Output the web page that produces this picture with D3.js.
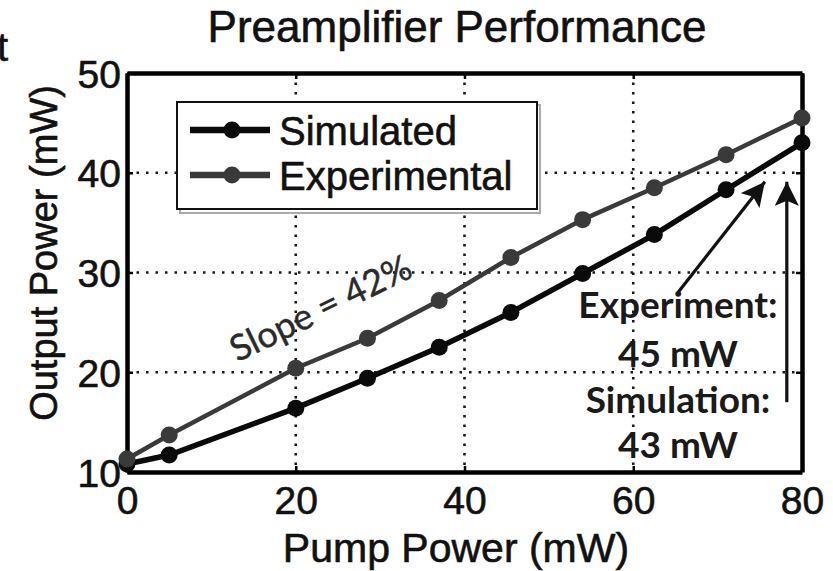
<!DOCTYPE html>
<html><head><meta charset="utf-8">
<script src="https://cdn.jsdelivr.net/npm/d3@7"></script>
<style>
html,body{margin:0;padding:0;background:#fff;}
svg{display:block;}
</style></head>
<body>
<svg id="chart" width="833" height="571"></svg>
<script>
// ---- data ----
const pumpPower = [0, 5, 20, 28.5, 37, 45.5, 54, 62.5, 71, 80];
const simulated = [10.8, 11.7, 16.4, 19.4, 22.5, 26.0, 29.9, 33.8, 38.3, 43.0];
const experimental = [11.3, 13.7, 20.4, 23.4, 27.2, 31.5, 35.3, 38.5, 41.8, 45.5];
const xTicks = [0, 20, 40, 60, 80];
const yTicks = [10, 20, 30, 40, 50];
const gridX = [20, 40, 60];
const gridY = [20, 30, 40];
const seriesNames = ["Simulated", "Experimental"];
const titleText = "Preamplifier Performance";
const xLabel = "Pump Power (mW)";
const yLabel = "Output Power (mW)";
const slopeText = "Slope = 42%";
const noteLines = ["Experiment:", "45 mW", "Simulation:", "43 mW"];

// ---- layout ----
const svg = d3.select("#chart");
const x = d3.scaleLinear().domain([0, 80]).range([127, 802]);
const y = d3.scaleLinear().domain([10, 50]).range([472, 73]);
const FONT = "'Liberation Sans', Arial, sans-serif";
const NOTEFONT = "Lato, 'Open Sans', sans-serif";

svg.append("rect").attr("width", 833).attr("height", 571).attr("fill", "#fff");

// cropped letter from neighbouring figure
svg.append("text").attr("x", 8).attr("y", 61).attr("text-anchor", "end")
  .attr("font-family", FONT).attr("font-size", 40).attr("fill", "#111")
  .attr("stroke", "#111").attr("stroke-width", 0.6).text("t");

// grid
const grid = svg.append("g").attr("stroke", "#1a1a1a").attr("stroke-width", 2.6)
  .attr("stroke-dasharray", "2.5,7");
grid.selectAll("line.gx").data(gridX).enter().append("line")
  .attr("x1", d => x(d)).attr("x2", d => x(d)).attr("y1", y(50)).attr("y2", y(10));
grid.selectAll("line.gy").data(gridY).enter().append("line")
  .attr("y1", d => y(d)).attr("y2", d => y(d)).attr("x1", x(0)).attr("x2", x(80));

// axes with inward ticks
const axB = svg.append("g").attr("transform", `translate(0,${y(10)})`)
  .call(d3.axisBottom(x).tickValues(xTicks).tickSizeInner(-6).tickSizeOuter(0).tickPadding(14));
const axL = svg.append("g").attr("transform", `translate(${x(0)},0)`)
  .call(d3.axisLeft(y).tickValues(yTicks).tickSizeInner(-6).tickSizeOuter(0).tickPadding(6));
const axT = svg.append("g").attr("transform", `translate(0,${y(50)})`)
  .call(d3.axisTop(x).tickValues(xTicks).tickSizeInner(-6).tickSizeOuter(0).tickFormat(""));
const axR = svg.append("g").attr("transform", `translate(${x(80)},0)`)
  .call(d3.axisRight(y).tickValues(yTicks).tickSizeInner(-6).tickSizeOuter(0).tickFormat(""));
[axB, axL, axT, axR].forEach(a => {
  a.select(".domain").attr("stroke", "#000").attr("stroke-width", 4.5);
  a.selectAll(".tick line").attr("stroke", "#000").attr("stroke-width", 2.5);
  a.selectAll(".tick text").attr("font-family", FONT).attr("font-size", 39).attr("fill", "#111")
    .attr("stroke", "#111").attr("stroke-width", 0.6);
});
axB.selectAll(".tick text").attr("dy", "0.71em");
axL.selectAll(".tick text").attr("dy", "0.36em");

// series
const colors = { Simulated: "#0a0a0a", Experimental: "#3a3a3a" };
const widths = { Simulated: 5.5, Experimental: 4.5 };
const seriesData = [
  { name: seriesNames[0], values: simulated },
  { name: seriesNames[1], values: experimental }
];
const line = d3.line().x(d => x(d[0])).y(d => y(d[1]));
seriesData.forEach(s => {
  const pts = pumpPower.map((p, i) => [p, s.values[i]]);
  svg.append("path").datum(pts).attr("d", line).attr("fill", "none")
    .attr("stroke", colors[s.name]).attr("stroke-width", widths[s.name]);
  svg.append("g").selectAll("circle").data(pts).enter().append("circle")
    .attr("cx", d => x(d[0])).attr("cy", d => y(d[1])).attr("r", 8.5)
    .attr("fill", colors[s.name]);
});

// legend
const lg = svg.append("g");
lg.append("rect").attr("x", 180).attr("y", 105).attr("width", 360).attr("height", 108)
  .attr("fill", "none").attr("stroke", "#aaa").attr("stroke-width", 2);
lg.append("rect").attr("x", 177).attr("y", 102).attr("width", 360).attr("height", 107)
  .attr("fill", "#fff").attr("stroke", "#111").attr("stroke-width", 2);
seriesData.forEach((s, i) => {
  const ly = 130 + i * 45;
  lg.append("line").attr("x1", 190).attr("x2", 270).attr("y1", ly).attr("y2", ly)
    .attr("stroke", colors[s.name]).attr("stroke-width", 6.5);
  lg.append("circle").attr("cx", 232).attr("cy", ly).attr("r", 8.5).attr("fill", colors[s.name]);
  lg.append("text").attr("x", 279).attr("y", ly + 15).attr("font-family", FONT)
    .attr("font-size", 40).attr("fill", "#111").attr("stroke", "#111").attr("stroke-width", 0.6)
    .text(s.name);
});

// title & axis labels
svg.append("text").attr("x", 457).attr("y", 42).attr("text-anchor", "middle")
  .attr("font-family", FONT).attr("font-size", 44).attr("fill", "#111")
  .attr("stroke", "#111").attr("stroke-width", 0.6).text(titleText);
svg.append("text").attr("x", 456).attr("y", 562).attr("text-anchor", "middle")
  .attr("font-family", FONT).attr("font-size", 41).attr("fill", "#111")
  .attr("stroke", "#111").attr("stroke-width", 0.6).text(xLabel);
svg.append("text").attr("transform", "translate(57,253) rotate(-90)").attr("text-anchor", "middle")
  .attr("font-family", FONT).attr("font-size", 38).attr("fill", "#111")
  .attr("stroke", "#111").attr("stroke-width", 0.6).text(yLabel);

// slope annotation
svg.append("text")
  .attr("transform", `translate(${x(23.6)},${y(25.3)}) rotate(-26)`)
  .attr("text-anchor", "middle").attr("font-family", NOTEFONT).attr("font-size", 36)
  .attr("fill", "#2a2a2a").attr("stroke", "#2a2a2a").attr("stroke-width", 0.4).text(slopeText);

// arrows
const defs = svg.append("defs");
defs.append("marker").attr("id", "ah").attr("markerUnits", "userSpaceOnUse")
  .attr("markerWidth", 28).attr("markerHeight", 24).attr("refX", 24).attr("refY", 12)
  .attr("orient", "auto")
  .append("path").attr("d", "M0,0 L24,12 L0,24 L5,12 Z").attr("fill", "#111");
svg.append("line").attr("x1", x(65.3)).attr("y1", y(28.0)).attr("x2", x(75.6)).attr("y2", y(39.1))
  .attr("stroke", "#111").attr("stroke-width", 3.2).attr("marker-end", "url(#ah)");
svg.append("line").attr("x1", x(78.2)).attr("y1", y(17.0)).attr("x2", x(78.2)).attr("y2", y(39.1))
  .attr("stroke", "#111").attr("stroke-width", 3.2).attr("marker-end", "url(#ah)");

// notes
const noteY = [25.4, 20.5, 15.9, 11.4];
noteLines.forEach((t, i) => {
  svg.append("text").attr("x", x(65.3)).attr("y", y(noteY[i])).attr("text-anchor", "middle")
    .attr("font-family", NOTEFONT).attr("font-weight", "bold").attr("font-size", 37)
    .attr("fill", "#1a1a1a").text(t);
});
</script>
</body></html>
